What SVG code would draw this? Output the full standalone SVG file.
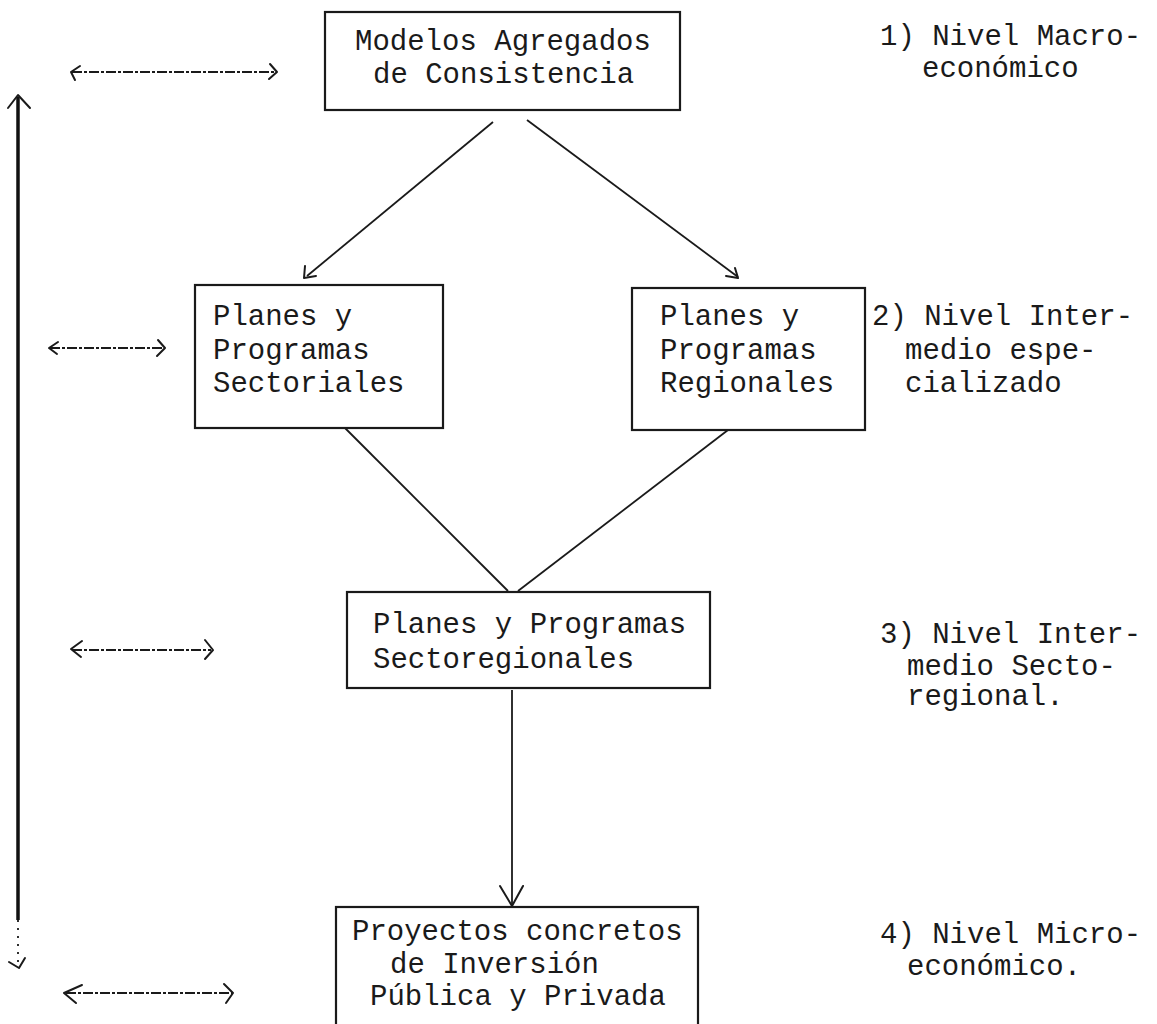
<svg xmlns="http://www.w3.org/2000/svg" width="1157" height="1024" viewBox="0 0 1157 1024">
  <style>
    .bg { fill: #ffffff; }
    .box { fill: none; stroke: #1a1a1a; stroke-width: 2.2; }
    .t { font-family: "Liberation Mono", "DejaVu Sans Mono", monospace; font-size: 29px; fill: #1a1a1a; }
    .conn { fill: none; stroke: #1a1a1a; stroke-width: 1.8; }
    .dash { fill: none; stroke: #1a1a1a; stroke-width: 1.8; stroke-dasharray: 10 2 3 2; }
    .head { fill: none; stroke: #1a1a1a; stroke-width: 2; stroke-linecap: round; stroke-linejoin: round; }
    .axis { fill: none; stroke: #111; stroke-width: 3.5; }
  </style>
  <rect class="bg" x="0" y="0" width="1157" height="1024"/>

  <g id="connectors">
    <line class="conn" x1="493" y1="122" x2="307" y2="276"/>
    <path class="head" d="M305 266 L304 278 L316 276"/>
    <line class="conn" x1="527" y1="120" x2="738" y2="277"/>
    <path class="head" d="M726 276 L738 278 L735 268"/>
    <line class="conn" x1="345" y1="428" x2="508" y2="591"/>
    <line class="conn" x1="728" y1="430" x2="518" y2="591"/>
    <line class="conn" x1="512" y1="690" x2="512" y2="905"/>
    <path class="head" d="M500 886 L512 906 L523 886"/>

    <line class="axis" x1="18" y1="97" x2="18" y2="920"/>
    <path class="head" d="M8 108 L18 95 L30 108"/>
    <line class="conn" x1="18" y1="920" x2="18" y2="966" stroke-dasharray="2 6"/>
    <path class="head" d="M9 962 L19 968 L25 958"/>

    <line class="dash" x1="72" y1="72" x2="275" y2="72"/>
    <path class="head" d="M80 66 L71 72 L75 80"/>
    <path class="head" d="M270 64 L277 72 L269 79"/>

    <line class="dash" x1="50" y1="348" x2="163" y2="348"/>
    <path class="head" d="M58 342 L49 348 L57 354"/>
    <path class="head" d="M158 340 L165 348 L157 356"/>

    <line class="dash" x1="72" y1="650" x2="211" y2="650"/>
    <path class="head" d="M82 641 L71 649 L81 657"/>
    <path class="head" d="M205 640 L213 650 L205 659"/>

    <line class="dash" x1="66" y1="993" x2="232" y2="993"/>
    <path class="head" d="M82 985 L64 993 L76 1003"/>
    <path class="head" d="M224 984 L233 993 L226 1003"/>
  </g>

  <g id="node-modelos">
    <rect class="box" x="325" y="12" width="355" height="98"/>
    <text class="t" x="355" y="50">Modelos Agregados</text>
    <text class="t" x="373" y="83">de Consistencia</text>
  </g>

  <g id="node-sectoriales">
    <rect class="box" x="195" y="285" width="248" height="143"/>
    <text class="t" x="213" y="325">Planes y</text>
    <text class="t" x="213" y="359">Programas</text>
    <text class="t" x="213" y="392">Sectoriales</text>
  </g>

  <g id="node-regionales">
    <rect class="box" x="632" y="288" width="233" height="142"/>
    <text class="t" x="660" y="325">Planes y</text>
    <text class="t" x="660" y="359">Programas</text>
    <text class="t" x="660" y="392">Regionales</text>
  </g>

  <g id="node-sectoregionales">
    <rect class="box" x="347" y="592" width="363" height="96"/>
    <text class="t" x="373" y="633">Planes y Programas</text>
    <text class="t" x="373" y="668">Sectoregionales</text>
  </g>

  <g id="node-proyectos">
    <rect class="box" x="336" y="907" width="362" height="140"/>
    <text class="t" x="352" y="940">Proyectos concretos</text>
    <text class="t" x="390" y="973">de Inversión</text>
    <text class="t" x="370" y="1005">Pública y Privada</text>
  </g>

  <g id="labels">
    <text class="t" x="880" y="45">1) Nivel Macro-</text>
    <text class="t" x="922" y="77">económico</text>
    <text class="t" x="872" y="325">2) Nivel Inter-</text>
    <text class="t" x="905" y="359">medio espe-</text>
    <text class="t" x="905" y="392">cializado</text>
    <text class="t" x="880" y="643">3) Nivel Inter-</text>
    <text class="t" x="907" y="675">medio Secto-</text>
    <text class="t" x="907" y="705">regional.</text>
    <text class="t" x="880" y="943">4) Nivel Micro-</text>
    <text class="t" x="907" y="975">económico.</text>
  </g>
</svg>
